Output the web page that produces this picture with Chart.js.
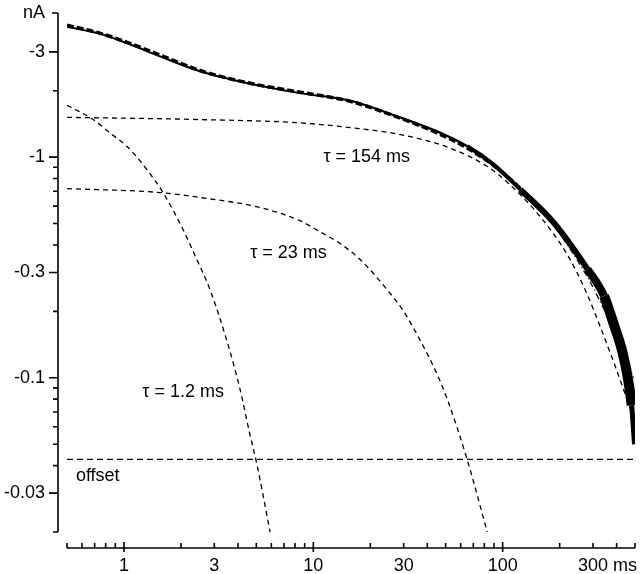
<!DOCTYPE html>
<html>
<head>
<meta charset="utf-8">
<script src="https://cdn.jsdelivr.net/npm/chart.js@4/dist/chart.umd.min.js"></script>
<style>
  html, body { margin: 0; padding: 0; background: #fff; }
  #wrap { width: 640px; height: 574px; }
</style>
</head>
<body>
<div id="wrap"><canvas id="decayChart"></canvas></div>
<script>
// time in ms, current magnitude in nA (plotted as negative values)
const traceT = [0.5, 0.75, 1.04, 1.55, 2.52, 4.64, 8.5, 15.7, 28.9, 36.8, 43, 65, 89, 124, 186, 281, 343, 386, 430, 458, 480, 497];
const traceI = [3.9, 3.62, 3.28, 2.86, 2.45, 2.15, 1.95, 1.8, 1.51, 1.40, 1.33, 1.12, 0.93, 0.713, 0.505, 0.31, 0.235, 0.175, 0.13, 0.1, 0.075, 0.05];

const fitT = [0.5, 0.75, 1.04, 1.55, 2.52, 4.64, 8.5, 15.7, 28.9, 43, 65, 89, 124, 186, 281, 343, 400, 458, 490];
const fitI = [3.96, 3.64, 3.31, 2.9, 2.47, 2.16, 1.97, 1.79, 1.5, 1.31, 1.1, 0.92, 0.72, 0.49, 0.285, 0.205, 0.16, 0.12, 0.1];

const tau154T = [0.5, 2.52, 8.5, 15.7, 28.9, 52.6, 83, 106, 160, 220, 273, 360, 436, 475];
const tau154I = [1.515, 1.48, 1.43, 1.36, 1.265, 1.1, 0.907, 0.768, 0.53, 0.36, 0.25, 0.138, 0.088, 0.071];

const tau23T = [0.5, 1.55, 2.52, 5.24, 8.5, 11, 13.9, 17.7, 24.6, 30, 36.8, 45, 51.2, 65.1, 83.3];
const tau23I = [0.72, 0.691, 0.656, 0.591, 0.515, 0.456, 0.405, 0.343, 0.25, 0.2, 0.147, 0.104, 0.0792, 0.0423, 0.0197];

const tau12T = [0.5, 0.685, 0.85, 1.037, 1.32, 1.61, 2.05, 2.4, 2.85, 3.52, 4.11, 4.6, 5.05, 5.93];
const tau12I = [1.717, 1.484, 1.28, 1.118, 0.879, 0.69, 0.47, 0.35, 0.25, 0.144, 0.088, 0.0565, 0.0401, 0.0197];

const offsetT = [0.5, 500];
const offsetI = [0.0427, 0.0427];

const xTickValues = [1, 3, 10, 30, 100, 300];
const xTickLabels = ['1', '3', '10', '30', '100', '300'];
const xMinorTicks = [0.5, 0.6, 0.7, 0.8, 0.9, 2, 3, 4, 5, 6, 7, 8, 9, 20, 30, 40, 50, 60, 70, 80, 90, 200, 300, 400, 500];
const xDecades = [1, 10, 100];

const yTickValues = [4.5, 3, 1, 0.3, 0.1, 0.03];
const yTickLabels = ['nA', '-3', '-1', '-0.3', '-0.1', '-0.03'];
const yMinorTicks = [2, 0.9, 0.8, 0.7, 0.6, 0.5, 0.4, 0.2, 0.09, 0.08, 0.07, 0.06, 0.05, 0.04, 0.02];

const notes = [
  { text: '\u03c4 = 154 ms', t: 11.3, i: 1.0 },
  { text: '\u03c4 = 23 ms', t: 4.64, i: 0.369 },
  { text: '\u03c4 = 1.2 ms', t: 1.25, i: 0.0863 },
  { text: 'offset', t: 0.557, i: 0.0358 }
];

const FAMILY = '"Liberation Sans", Arial, sans-serif';
const FONT = '18px ' + FAMILY;

function pts(ts, vs) {
  return ts.map((t, k) => ({ x: t, y: vs[k] }));
}

function traceWidth(t) {
  if (t < 20) return 2;
  if (t < 60) return 2.5;
  if (t < 120) return 4;
  if (t < 200) return 6;
  if (t < 300) return 8;
  if (t < 470) return 10;
  return 5;
}

const dashed = { borderColor: '#000', borderWidth: 1.3, borderDash: [5, 4], pointRadius: 0, fill: false, cubicInterpolationMode: 'monotone' };

const axesPlugin = {
  id: 'detachedAxes',
  afterDraw(chart) {
    const ctx = chart.ctx;
    const xs = chart.scales.x, ys = chart.scales.y;
    const area = chart.chartArea;
    const ax = area.left - 9;
    const ay = area.bottom + 16;
    ctx.save();
    ctx.strokeStyle = '#000';
    ctx.lineWidth = 1.6;
    // y axis
    ctx.beginPath();
    ctx.moveTo(ax, ys.getPixelForValue(4.5));
    ctx.lineTo(ax, ys.getPixelForValue(0.02));
    yTickValues.forEach(v => {
      const p = ys.getPixelForValue(v);
      ctx.moveTo(ax, p);
      ctx.lineTo(ax - (v === 4.5 ? 6 : 9), p);
    });
    yMinorTicks.forEach(v => {
      const p = ys.getPixelForValue(v);
      ctx.moveTo(ax, p);
      ctx.lineTo(ax - 5, p);
    });
    // x axis
    ctx.moveTo(xs.getPixelForValue(0.5), ay);
    ctx.lineTo(xs.getPixelForValue(500), ay);
    xMinorTicks.forEach(v => {
      const p = xs.getPixelForValue(v);
      ctx.moveTo(p, ay);
      ctx.lineTo(p, ay - 5);
    });
    xDecades.forEach(v => {
      const p = xs.getPixelForValue(v);
      ctx.moveTo(p, ay + 4);
      ctx.lineTo(p, ay - 6);
    });
    ctx.stroke();

    ctx.fillStyle = '#000';
    ctx.font = FONT;
    ctx.textBaseline = 'middle';
    ctx.textAlign = 'left';
    notes.forEach(n => {
      ctx.fillText(n.text, xs.getPixelForValue(n.t), ys.getPixelForValue(n.i));
    });
    // unit after the last x label
    const p300 = xs.getPixelForValue(300);
    const w300 = ctx.measureText('300').width;
    ctx.textBaseline = 'top';
    ctx.fillText('ms', p300 + w300 / 2 + 5, area.bottom + 25);
    ctx.restore();
  }
};

new Chart(document.getElementById('decayChart'), {
  type: 'line',
  data: {
    datasets: [
      {
        data: pts(fitT, fitI), borderColor: '#000', pointRadius: 0, fill: false,
        cubicInterpolationMode: 'monotone', borderWidth: 3.5, borderDash: [7, 3],
        segment: {
          borderWidth: c => c.p0.parsed.x < 100 ? 3.5 : 1.2,
          borderDash: c => c.p0.parsed.x < 100 ? [7, 3] : [6, 3, 1, 3]
        }
      },
      {
        data: pts(traceT, traceI), borderColor: '#000', pointRadius: 0, fill: false,
        cubicInterpolationMode: 'monotone', borderWidth: 2,
        segment: { borderWidth: c => traceWidth(c.p0.parsed.x) }
      },
      Object.assign({ data: pts(tau154T, tau154I) }, dashed),
      Object.assign({ data: pts(tau23T, tau23I) }, dashed),
      Object.assign({ data: pts(tau12T, tau12I) }, dashed),
      Object.assign({ data: pts(offsetT, offsetI) }, dashed, { borderDash: [6, 4] })
    ]
  },
  options: {
    responsive: true,
    maintainAspectRatio: false,
    animation: false,
    layout: { padding: { top: 13, right: 5, left: 0, bottom: 0 } },
    plugins: { legend: { display: false }, tooltip: { enabled: false } },
    scales: {
      x: {
        type: 'logarithmic', min: 0.5, max: 500,
        grid: { display: false, drawTicks: false },
        border: { display: false },
        afterBuildTicks: s => { s.ticks = xTickValues.map(v => ({ value: v })); },
        afterFit: s => { s.height = 42; s.paddingLeft = 0; s.paddingRight = 0; },
        ticks: {
          autoSkip: false, maxRotation: 0, padding: 23, color: '#000',
          font: { family: FAMILY, size: 18 },
          callback: v => { const k = xTickValues.indexOf(v); return k < 0 ? '' : xTickLabels[k]; }
        }
      },
      y: {
        type: 'logarithmic', min: 0.02, max: 4.5,
        grid: { display: false, drawTicks: false },
        border: { display: false },
        afterBuildTicks: s => { s.ticks = yTickValues.map(v => ({ value: v })); },
        afterFit: s => { s.width = 67; s.paddingTop = 0; s.paddingBottom = 0; },
        ticks: {
          autoSkip: false, padding: 22, color: '#000',
          font: { family: FAMILY, size: 18 },
          callback: v => { const k = yTickValues.indexOf(v); return k < 0 ? '' : yTickLabels[k]; }
        }
      }
    }
  },
  plugins: [axesPlugin]
});
</script>
</body>
</html>
